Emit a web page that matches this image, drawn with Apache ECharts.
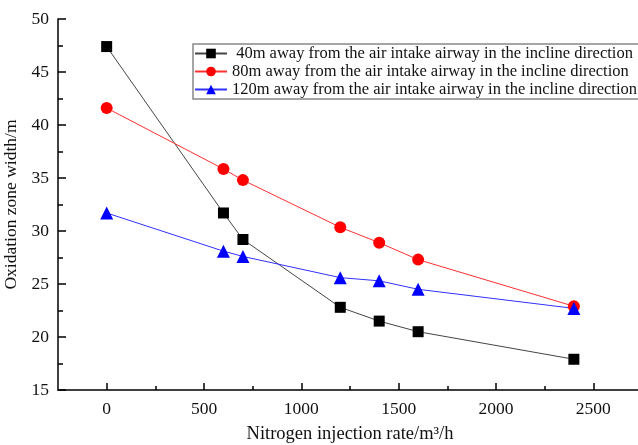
<!DOCTYPE html>
<html>
<head>
<meta charset="utf-8">
<script src="https://cdn.jsdelivr.net/npm/echarts@6/dist/echarts.min.js"></script>
<style>
  html, body { margin: 0; padding: 0; background: #fff; }
  #chart { width: 638px; height: 445px; }
</style>
</head>
<body>
<div id="chart"></div>
<script>
// nitrogen injection rate (m3/h)
const injectionRates = [0, 600, 700, 1200, 1400, 1600, 2400];
// oxidation zone width (m) for each distance
const width40m = [47.4, 31.7, 29.2, 22.8, 21.5, 20.5, 17.9];
const width80m = [41.6, 35.85, 34.8, 30.35, 28.9, 27.3, 22.9];
const width120m = [31.7, 28.1, 27.6, 25.6, 25.3, 24.5, 22.7];

const seriesNames = [
  " 40m away from the air intake airway in the incline direction",
  "80m away from the air intake airway in the incline direction",
  "120m away from the air intake airway in the incline direction",
];

const xMajorTicks = [0, 500, 1000, 1500, 2000, 2500];
const xMinorTicks = [250, 750, 1250, 1750, 2250, 2750];

const FONT = "Liberation Serif";

const toPairs = (ys) => injectionRates.map((x, i) => [x, ys[i]]);

const chart = echarts.init(document.getElementById("chart"));

const option = {
  animation: false,
  grid: { left: 58, right: -4, top: 19, bottom: 55, outerBoundsMode: "none", containLabel: false },
  legend: {
    orient: "vertical",
    left: 193,
    top: 44,
    itemWidth: 32,
    itemHeight: 12,
    itemGap: 1,
    padding: [1, 6, 1, 1],
    borderColor: "#888",
    borderWidth: 1.5,
    textStyle: { fontFamily: FONT, fontSize: 16.5, color: "#111" },
    data: seriesNames,
  },
  xAxis: [
    {
      type: "value",
      min: -250,
      max: 2750,
      name: "Nitrogen injection rate/m³/h",
      nameLocation: "middle",
      nameGap: 35,
      nameTextStyle: { fontFamily: FONT, fontSize: 18.5, color: "#111" },
      splitLine: { show: false },
      axisLine: { onZero: false, lineStyle: { color: "#000", width: 1.5 } },
      axisTick: {
        inside: true,
        length: 7,
        customValues: xMajorTicks,
        lineStyle: { color: "#000", width: 1.5 },
      },
      axisLabel: {
        customValues: xMajorTicks,
        formatter: (v) => String(v),
        margin: 10,
        fontFamily: FONT,
        fontSize: 17.5,
        color: "#111",
      },
    },
    {
      type: "value",
      min: -250,
      max: 2750,
      position: "bottom",
      splitLine: { show: false },
      axisLine: { show: false, onZero: false },
      axisLabel: { show: false },
      axisTick: {
        inside: true,
        length: 4,
        customValues: xMinorTicks,
        lineStyle: { color: "#000", width: 1.5 },
      },
    },
  ],
  yAxis: {
    type: "value",
    min: 15,
    max: 50,
    interval: 5,
    name: "Oxidation zone width/m",
    nameLocation: "middle",
    nameGap: 35,
    nameTextStyle: { fontFamily: FONT, fontSize: 17.5, color: "#111" },
    splitLine: { show: false },
    axisLine: { show: true, onZero: false, lineStyle: { color: "#000", width: 1.5 } },
    axisTick: { show: true, inside: true, length: 8, lineStyle: { color: "#000", width: 1.5 } },
    minorTick: { show: true, splitNumber: 2, length: 5, lineStyle: { color: "#000", width: 1.5 } },
    axisLabel: { margin: 9, fontFamily: FONT, fontSize: 17.5, color: "#111" },
  },
  series: [
    {
      name: seriesNames[0],
      type: "line",
      data: toPairs(width40m),
      symbol: "rect",
      symbolSize: 11,
      itemStyle: { color: "#000" },
      lineStyle: { color: "#444", width: 1 },
    },
    {
      name: seriesNames[1],
      type: "line",
      data: toPairs(width80m),
      symbol: "circle",
      symbolSize: 12,
      itemStyle: { color: "#ff0000" },
      lineStyle: { color: "#ff3030", width: 1 },
    },
    {
      name: seriesNames[2],
      type: "line",
      data: toPairs(width120m),
      symbol: "triangle",
      symbolSize: 13,
      itemStyle: { color: "#0000ff" },
      lineStyle: { color: "#3030ff", width: 1 },
    },
  ],
};

option && chart.setOption(option);
</script>
</body>
</html>
